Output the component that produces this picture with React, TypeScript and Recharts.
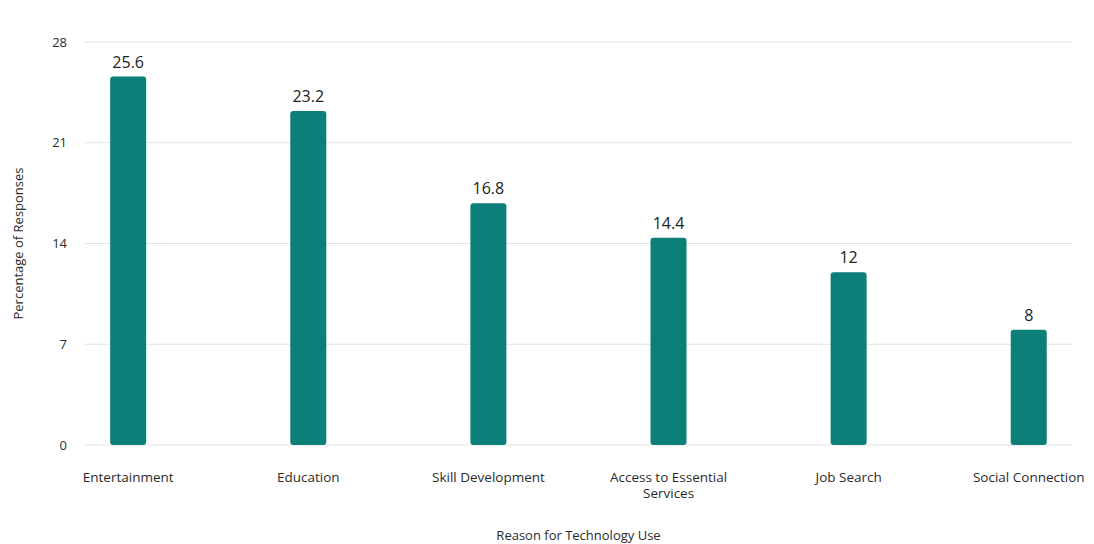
import React from 'react';
import { BarChart, Bar, XAxis, YAxis, CartesianGrid, LabelList, Label } from 'recharts';

// Reasons for technology use — share of responses (%)

const reasons = [
  'Entertainment',
  'Education',
  'Skill Development',
  'Access to Essential Services',
  'Job Search',
  'Social Connection',
];
const percentages = [25.6, 23.2, 16.8, 14.4, 12, 8];
const yTicks = [0, 7, 14, 21, 28];

const data = reasons.map((name, i) => ({ idx: i, name, value: percentages[i] }));

const FONT = '"Open Sans", "Noto Sans", sans-serif';
const TEAL = '#0b7f78';

// wrap long category names onto two lines
function wrapLabel(text: string, max = 20): string[] {
  const words = text.split(' ');
  const lines: string[] = [];
  let cur = '';
  words.forEach(w => {
    const next = cur ? cur + ' ' + w : w;
    if (next.length > max && cur) {
      lines.push(cur);
      cur = w;
    } else {
      cur = next;
    }
  });
  if (cur) lines.push(cur);
  return lines;
}

function CategoryTick(props: any) {
  const { x, y, payload } = props;
  const label = reasons[payload.value] ?? '';
  const lines = wrapLabel(label);
  return (
    <text x={x} y={y} textAnchor="middle" fill="#2b2b2b" fontSize={13.5} fontFamily={FONT}>
      {lines.map((line, i) => (
        <tspan key={i} x={x} dy={i === 0 ? '0.71em' : 16}>
          {line}
        </tspan>
      ))}
    </text>
  );
}

export default function App() {
  return (
    <div style={{ position: 'absolute', left: 0, top: 0, background: '#fff' }}>
      <BarChart
        width={1094}
        height={544}
        data={data}
        margin={{ top: 42, right: 22, left: 0, bottom: 0 }}
        style={{ fontFamily: FONT }}
      >
        <CartesianGrid vertical={false} stroke="#e2e2e2" />
        <XAxis
          dataKey="idx"
          type="number"
          domain={[-0.24, 5.24]}
          ticks={[0, 1, 2, 3, 4, 5]}
          allowDecimals={false}
          axisLine={false}
          tickLine={false}
          tickMargin={21}
          height={99}
          tick={<CategoryTick />}
        >
          <Label
            value="Reason for Technology Use"
            position="insideBottom"
            offset={4}
            fill="#2b2b2b"
            fontSize={13}
          />
        </XAxis>
        <YAxis
          width={85}
          domain={[0, 28]}
          ticks={yTicks}
          axisLine={false}
          tickLine={false}
          tickMargin={12}
          tick={{ fill: '#2b2b2b', fontSize: 13 }}
        >
          <Label
            value="Percentage of Responses"
            angle={-90}
            position="insideLeft"
            offset={18}
            fill="#2b2b2b"
            fontSize={13}
            style={{ textAnchor: 'middle' }}
          />
        </YAxis>
        <Bar dataKey="value" fill={TEAL} barSize={36} radius={[3, 3, 3, 3]} isAnimationActive={false}>
          <LabelList dataKey="value" position="top" offset={9} fill="#222" fontSize={16} />
        </Bar>
      </BarChart>
    </div>
  );
}
